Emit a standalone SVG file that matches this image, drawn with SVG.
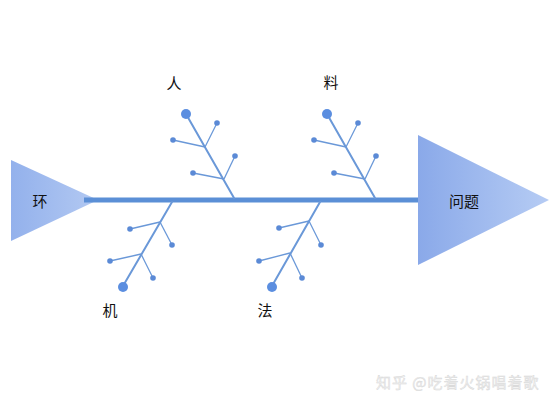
<svg xmlns="http://www.w3.org/2000/svg" width="560" height="408" viewBox="0 0 560 408">
<defs>
<linearGradient id="gHead" x1="0" y1="0" x2="1" y2="0">
<stop offset="0" stop-color="#8aa9e9"/>
<stop offset="1" stop-color="#b6ccf4"/>
</linearGradient>
<linearGradient id="gTail" x1="0" y1="0" x2="1" y2="0">
<stop offset="0" stop-color="#93b1ec"/>
<stop offset="1" stop-color="#b3c9f2"/>
</linearGradient>
<style>
.lbl{font-family:"Noto Sans CJK SC","Liberation Sans",sans-serif;font-size:15px;fill:#111;text-anchor:middle;dominant-baseline:central}
.main{stroke:#6a98d8;stroke-width:2;fill:none;stroke-linecap:round}
.br{stroke:#6a98d8;stroke-width:1.3;fill:none}
.big{fill:#5b8ee0}
.sm{fill:#5b8ad6}
.wm{font-family:"Noto Sans CJK SC","Liberation Sans",sans-serif;font-size:15px;letter-spacing:1px;fill:#efefef;stroke:#d6d6d6;stroke-width:0.4}
</style>
</defs>
<rect width="560" height="408" fill="#ffffff"/>
<g id="tail">
<polygon points="11,160 11,241 98,200" fill="url(#gTail)"/>
<text class="lbl" x="40" y="200">环</text>
</g>
<g id="connectors">
<line x1="84" y1="200" x2="420" y2="200" stroke="#5b8fd6" stroke-width="5"/>
</g>
<g id="head">
<polygon points="418,135 418,265 549,200" fill="url(#gHead)"/>
<text class="lbl" x="464" y="200">问题</text>
</g>
<g id="bone-ren">
<line class="main" x1="186" y1="114" x2="234" y2="198"/>
<line class="br" x1="205" y1="147" x2="173" y2="140"/>
<line class="br" x1="205" y1="147" x2="217" y2="123"/>
<line class="br" x1="224" y1="179" x2="193" y2="173"/>
<line class="br" x1="224" y1="179" x2="235" y2="156"/>
<circle class="big" cx="186" cy="114" r="5"/>
<circle class="sm" cx="173" cy="140" r="2.8"/>
<circle class="sm" cx="217" cy="123" r="2.8"/>
<circle class="sm" cx="193" cy="173" r="2.8"/>
<circle class="sm" cx="235" cy="156" r="2.8"/>
<text class="lbl" x="174" y="82">人</text>
</g>
<g id="bone-liao">
<line class="main" x1="327" y1="114" x2="375" y2="198"/>
<line class="br" x1="346" y1="147" x2="314" y2="140"/>
<line class="br" x1="346" y1="147" x2="358" y2="123"/>
<line class="br" x1="365" y1="179" x2="334" y2="173"/>
<line class="br" x1="365" y1="179" x2="376" y2="156"/>
<circle class="big" cx="327" cy="114" r="5"/>
<circle class="sm" cx="314" cy="140" r="2.8"/>
<circle class="sm" cx="358" cy="123" r="2.8"/>
<circle class="sm" cx="334" cy="173" r="2.8"/>
<circle class="sm" cx="376" cy="156" r="2.8"/>
<text class="lbl" x="331" y="81">料</text>
</g>
<g id="bone-ji">
<line class="main" x1="172" y1="202" x2="123" y2="286"/>
<line class="br" x1="160" y1="222" x2="130" y2="229"/>
<line class="br" x1="160" y1="222" x2="172" y2="245"/>
<line class="br" x1="141" y1="254" x2="110" y2="261"/>
<line class="br" x1="141" y1="254" x2="153" y2="278"/>
<circle class="big" cx="123" cy="287" r="5"/>
<circle class="sm" cx="130" cy="229" r="2.8"/>
<circle class="sm" cx="172" cy="245" r="2.8"/>
<circle class="sm" cx="110" cy="261" r="2.8"/>
<circle class="sm" cx="153" cy="278" r="2.8"/>
<text class="lbl" x="110" y="309">机</text>
</g>
<g id="bone-fa">
<line class="main" x1="320" y1="202" x2="272" y2="286"/>
<line class="br" x1="309" y1="221" x2="279" y2="228"/>
<line class="br" x1="309" y1="221" x2="321" y2="245"/>
<line class="br" x1="290" y1="253" x2="259" y2="261"/>
<line class="br" x1="290" y1="253" x2="302" y2="278"/>
<circle class="big" cx="272" cy="287" r="5"/>
<circle class="sm" cx="279" cy="228" r="2.8"/>
<circle class="sm" cx="321" cy="245" r="2.8"/>
<circle class="sm" cx="259" cy="261" r="2.8"/>
<circle class="sm" cx="302" cy="278" r="2.8"/>
<text class="lbl" x="265" y="309">法</text>
</g>
<text class="wm" x="376" y="388">知乎 @吃着火锅唱着歌</text>
</svg>
